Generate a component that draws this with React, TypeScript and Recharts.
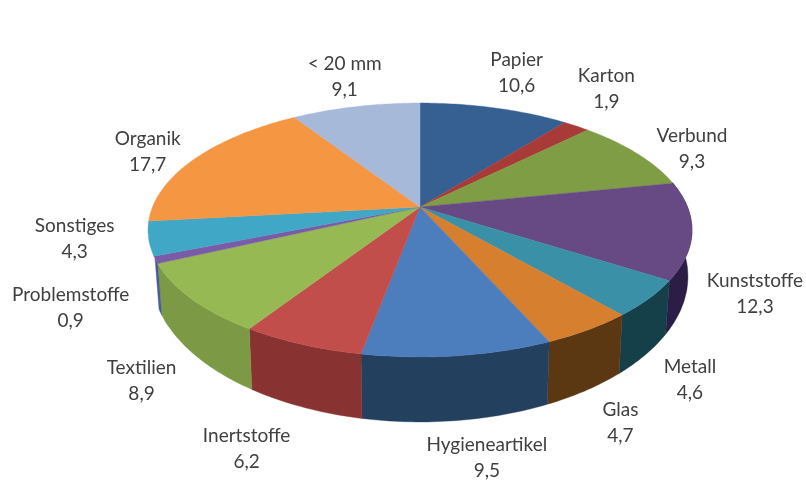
import React from "react";
import { PieChart, Pie } from "recharts";

const categories = ["Papier","Karton","Verbund","Kunststoffe","Metall","Glas","Hygieneartikel","Inertstoffe","Textilien","Problemstoffe","Sonstiges","Organik","< 20 mm"];
const values = [10.6,1.9,9.3,12.3,4.6,4.7,9.5,6.2,8.9,0.9,4.3,17.7,9.1];
const topColors = ["#376092","#a83a37","#7f9d45","#674a84","#3a90a6","#d67f2f","#4c7dbd","#c24e4b","#97b953","#7a5ba8","#41a7c6","#f59642","#a6b9d9"];
const wallColors = ["#264468","#772a28","#5a7030","#2b1d45","#154049","#5c3812","#24405f","#883232","#7c9a45","#4a5a96","#2f7a90","#b06c2e","#75849c"];
const labelOffsets = [[22,-35],[30,-37],[55,-4],[63,64],[41,82],[32,93],[29,102],[-55,105],[-50,82],[-85,48],[-74,0],[-48,-6],[-11,-30]];

const tops = categories.map((name, i) => ({ name, value: values[i], fill: topColors[i] }));
const walls = categories.map((name, i) => ({ name, value: values[i], fill: wallColors[i] }));

const C = 0.181, TILT = 0.459, DEPTH = 43.6;
const rad = (d: number) => (d * Math.PI) / 180;
function project(cx: number, cy: number, R: number, angle: number) {
  const t = rad(90 - angle);
  const u = Math.sin(t), v = -Math.cos(t), w = 1 - C * v;
  return { x: cx + (R * u) / w, y: cy + (R * TILT * v) / w, w };
}
function arc(cx: number, cy: number, R: number, a0: number, a1: number) {
  const n = Math.max(2, Math.ceil(Math.abs(a1 - a0)));
  return Array.from({ length: n + 1 }, (_, i) => project(cx, cy, R, a0 + ((a1 - a0) * i) / n));
}
const TopShape = (p: any) => {
  const pts = arc(p.cx, p.cy, p.outerRadius, p.startAngle, p.endAngle);
  const d = `M${p.cx},${p.cy}` + pts.map((q) => `L${q.x.toFixed(1)},${q.y.toFixed(1)}`).join("") + "Z";
  return <path d={d} fill={p.fill} stroke={p.fill} strokeWidth={0.4} />;
};
const WallShape = (p: any) => {
  // visible part of the rim, between the right and left extremes of the disc
  const lo = 90 - 247, hi = 90 - 78;
  const a0 = Math.min(p.startAngle, hi), a1 = Math.max(p.endAngle, lo);
  if (a0 <= a1) return <g />;
  const topEdge = arc(p.cx, p.cy, p.outerRadius, a0, a1);
  const bottom = topEdge.map((q) => ({
    x: p.cx + (q.x - p.cx) * 0.985,
    y: q.y + DEPTH / (q.w * q.w),
  })).reverse();
  const d = "M" + [...topEdge, ...bottom].map((q) => `${q.x.toFixed(1)},${q.y.toFixed(1)}`).join("L") + "Z";
  return <path d={d} fill={p.fill} stroke={p.fill} strokeWidth={0.4} />;
};
const renderLabel = (p: any) => {
  const i = categories.indexOf(p.name);
  const e = project(p.cx, p.cy, p.outerRadius, p.midAngle);
  const x = e.x + labelOffsets[i][0], y = e.y + labelOffsets[i][1];
  return (
    <text x={x} y={y} textAnchor="middle" fill="#404040" fontFamily="Lato, sans-serif" fontSize={19}>
      <tspan x={x} dy={-7}>{p.name}</tspan>
      <tspan x={x} dy={26}>{String(p.value).replace(".", ",")}</tspan>
    </text>
  );
};

export default function App() {
  return (
    <div style={{ position: "absolute", left: 0, top: 0, width: 806, height: 481, background: "#fff", filter: "blur(0.6px)" }}>
      <PieChart width={806} height={481} margin={{ top: 0, right: 0, bottom: 0, left: 0 }}>
        <Pie data={walls} dataKey="value" nameKey="name" cx={420} cy={207} outerRadius={267.5} startAngle={90} endAngle={-270} paddingAngle={0} stroke="none" shape={WallShape} isAnimationActive={false} />
        <Pie data={tops} dataKey="value" nameKey="name" cx={420} cy={207} outerRadius={267.5} startAngle={90} endAngle={-270} paddingAngle={0} stroke="none" shape={TopShape} label={renderLabel} labelLine={false} isAnimationActive={false} />
      </PieChart>
    </div>
  );
}
